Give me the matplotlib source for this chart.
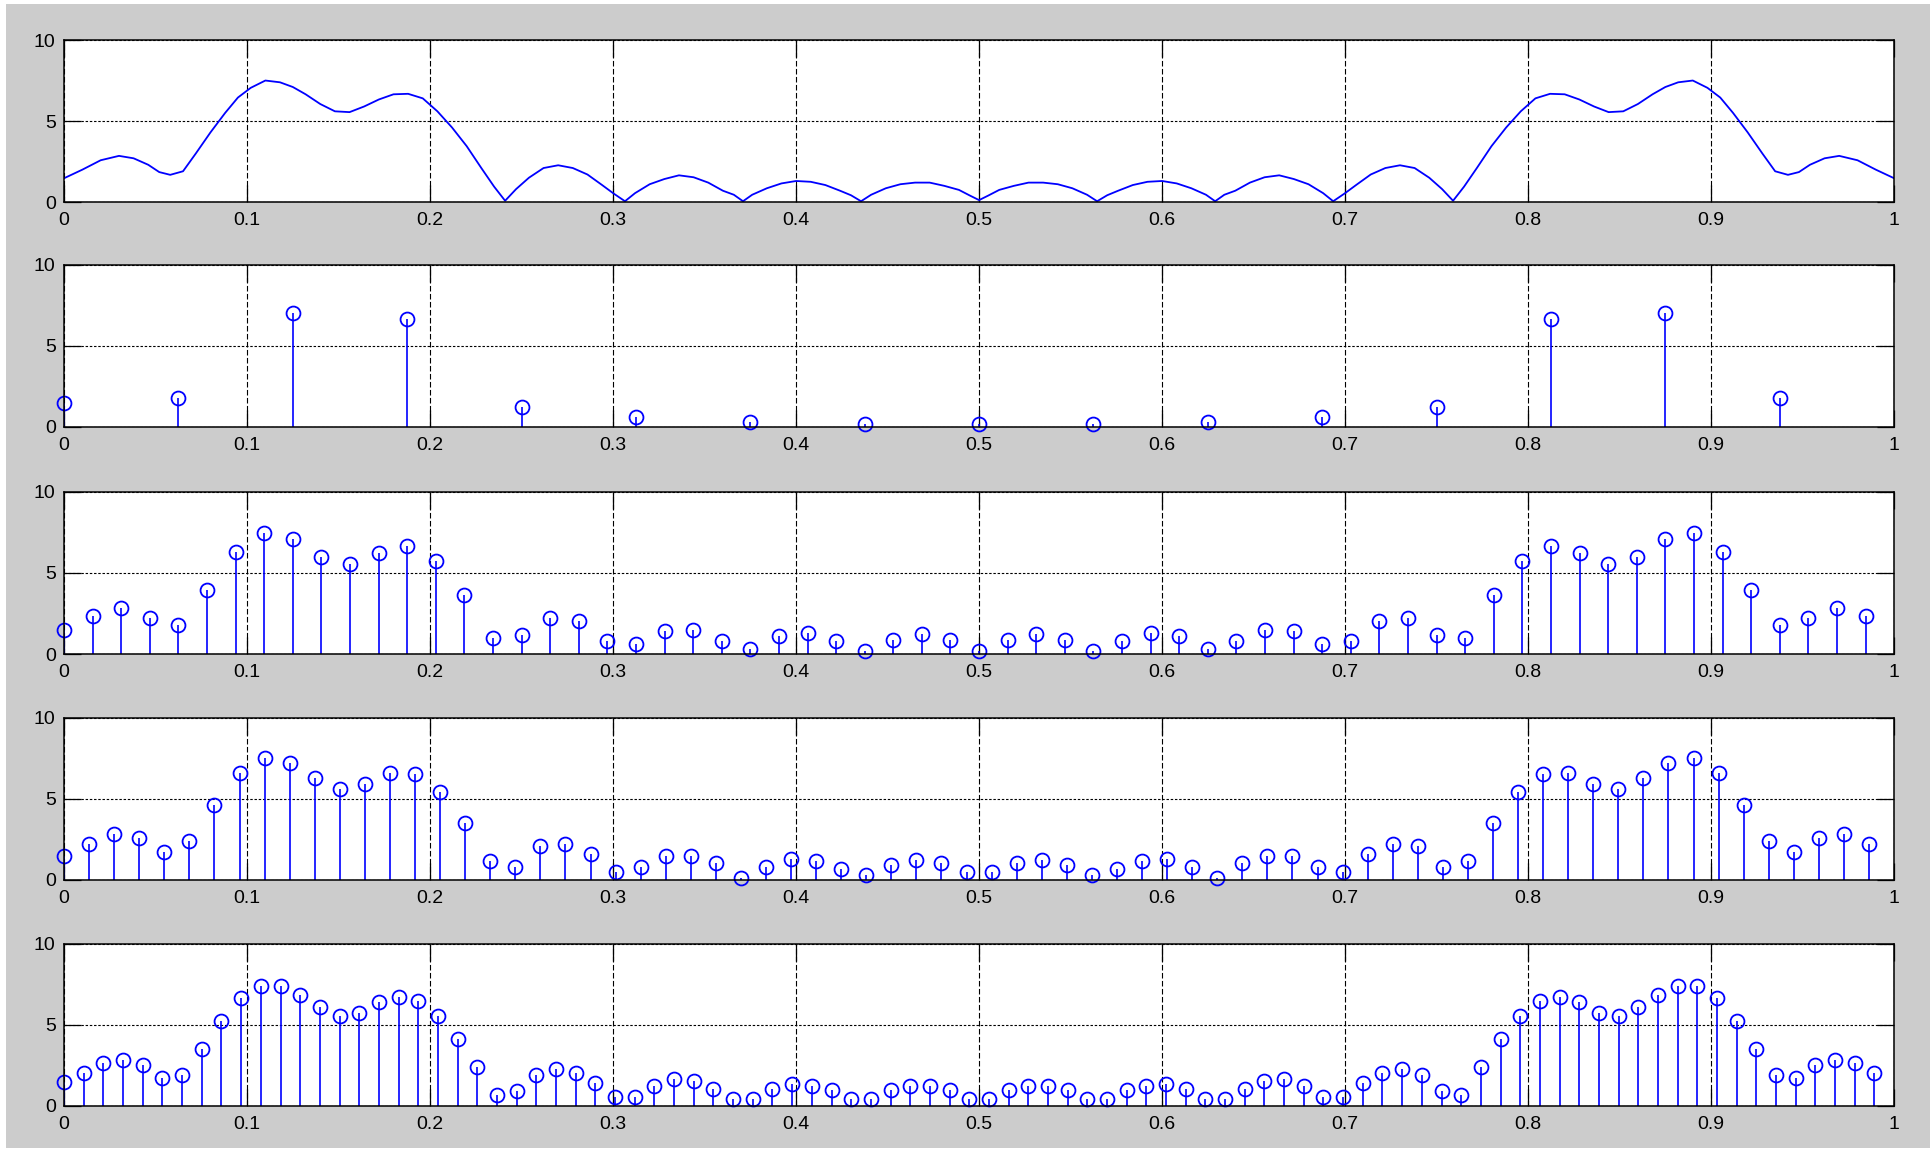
import matplotlib
matplotlib.use('Agg')
import matplotlib.pyplot as plt
from matplotlib.patches import Rectangle
import numpy as np

plt.rcParams['font.family'] = ['Liberation Sans', 'DejaVu Sans']

# continuous spectrum (top panel)
dtft_freq = [0, 0.01, 0.02, 0.03, 0.038, 0.046, 0.052, 0.058, 0.065, 0.072,
             0.08, 0.088, 0.095, 0.102, 0.11, 0.118, 0.125, 0.132, 0.14, 0.148,
             0.156, 0.164, 0.172, 0.18, 0.188, 0.196, 0.204, 0.212, 0.22, 0.228,
             0.235, 0.241, 0.247, 0.254, 0.262, 0.27, 0.278, 0.286, 0.294, 0.3,
             0.3065, 0.312, 0.32, 0.328, 0.336, 0.344, 0.352, 0.36, 0.366, 0.371,
             0.376, 0.384, 0.392, 0.4, 0.408, 0.416, 0.424, 0.43, 0.4355, 0.441,
             0.449, 0.457, 0.465, 0.473, 0.481, 0.489, 0.495, 0.5,
             0.505, 0.511, 0.519, 0.527, 0.535, 0.543, 0.551, 0.559, 0.5645, 0.57,
             0.576, 0.584, 0.592, 0.6, 0.608, 0.616, 0.624, 0.629, 0.634, 0.64,
             0.648, 0.656, 0.664, 0.672, 0.68, 0.688, 0.6935, 0.7, 0.706, 0.714,
             0.722, 0.73, 0.738, 0.746, 0.753, 0.759, 0.765, 0.772, 0.78, 0.788,
             0.796, 0.804, 0.812, 0.82, 0.828, 0.836, 0.844, 0.852, 0.86, 0.868,
             0.875, 0.882, 0.89, 0.898, 0.905, 0.912, 0.92, 0.928, 0.935, 0.942,
             0.948, 0.954, 0.962, 0.97, 0.98, 0.99, 1.0]
dtft_mag = [1.47, 2.0, 2.58, 2.85, 2.7, 2.3, 1.85, 1.68, 1.9, 3.0,
            4.3, 5.5, 6.45, 7.05, 7.5, 7.39, 7.1, 6.65, 6.05, 5.6,
            5.55, 5.9, 6.33, 6.65, 6.68, 6.4, 5.6, 4.6, 3.45, 2.1,
            0.95, 0.08, 0.8, 1.5, 2.1, 2.27, 2.1, 1.7, 1.05, 0.55,
            0.05, 0.55, 1.1, 1.42, 1.65, 1.53, 1.2, 0.7, 0.45, 0.05,
            0.45, 0.85, 1.15, 1.3, 1.25, 1.05, 0.7, 0.42, 0.05, 0.45,
            0.85, 1.1, 1.2, 1.2, 1.0, 0.75, 0.4, 0.12,
            0.4, 0.75, 1.0, 1.2, 1.2, 1.1, 0.85, 0.45, 0.05, 0.42,
            0.7, 1.05, 1.25, 1.3, 1.15, 0.85, 0.45, 0.05, 0.45, 0.7,
            1.2, 1.53, 1.65, 1.42, 1.1, 0.55, 0.05, 0.55, 1.05, 1.7,
            2.1, 2.27, 2.1, 1.5, 0.8, 0.08, 0.95, 2.1, 3.45, 4.6,
            5.6, 6.4, 6.68, 6.65, 6.33, 5.9, 5.55, 5.6, 6.05, 6.65,
            7.1, 7.39, 7.5, 7.05, 6.45, 5.5, 4.3, 3.0, 1.9, 1.68,
            1.85, 2.3, 2.7, 2.85, 2.58, 2.0, 1.47]

# sampled spectra, N = 16, 64, 73, 93
dft16 = [1.48, 1.80, 7.06, 6.65, 1.23, 0.60, 0.29, 0.20,
         0.20, 0.20, 0.29, 0.60, 1.23, 6.65, 7.06, 1.82]

dft64 = [1.46, 2.33, 2.84, 2.22, 1.81, 3.93, 6.28, 7.49, 7.08, 5.99, 5.58,
         6.26, 6.67, 5.74, 3.62, 0.99, 1.19, 2.22, 2.02, 0.78, 0.62, 1.40,
         1.50, 0.78, 0.33, 1.11, 1.32, 0.78, 0.16, 0.88, 1.21, 0.84, 0.16,
         0.84, 1.21, 0.88, 0.16, 0.78, 1.32, 1.11, 0.33, 0.78, 1.50, 1.40,
         0.62, 0.78, 2.02, 2.22, 1.19, 0.99, 3.62, 5.74, 6.67, 6.26, 5.58,
         5.99, 7.08, 7.49, 6.28, 3.93, 1.81, 2.22, 2.84, 2.33]

dft73 = [1.47, 2.25, 2.85, 2.60, 1.71, 2.42, 4.65, 6.59, 7.52, 7.21, 6.30,
         5.60, 5.95, 6.59, 6.57, 5.45, 3.53, 1.18, 0.81, 2.07, 2.23, 1.63,
         0.52, 0.83, 1.47, 1.51, 1.03, 0.14, 0.83, 1.32, 1.20, 0.68, 0.33,
         0.95, 1.24, 1.07, 0.48,
         0.48, 1.07, 1.24, 0.95, 0.33, 0.68, 1.20, 1.32, 0.83, 0.14, 1.03,
         1.51, 1.47, 0.83, 0.52, 1.63, 2.23, 2.07, 0.81, 1.18, 3.53, 5.45,
         6.57, 6.59, 5.95, 5.60, 6.30, 7.21, 7.52, 6.59, 4.65, 2.42, 1.71,
         2.60, 2.85, 2.25]

dft93 = [1.46, 2.04, 2.65, 2.86, 2.51, 1.73, 1.93, 3.54, 5.23, 6.67, 7.39,
         7.39, 6.83, 6.09, 5.53, 5.74, 6.40, 6.73, 6.50, 5.58, 4.14, 2.41,
         0.70, 0.93, 1.93, 2.28, 2.04, 1.42, 0.53, 0.53, 1.26, 1.67, 1.56,
         1.05, 0.45, 0.45, 1.07, 1.36, 1.21, 0.97, 0.45, 0.45, 1.01, 1.23,
         1.26, 0.99, 0.45,
         0.45, 0.99, 1.26, 1.23, 1.01, 0.45, 0.45, 0.97, 1.21, 1.36, 1.07,
         0.45, 0.45, 1.05, 1.56, 1.67, 1.26, 0.53, 0.53, 1.42, 2.04, 2.28,
         1.93, 0.93, 0.70, 2.41, 4.14, 5.58, 6.50, 6.73, 6.40, 5.74, 5.53,
         6.09, 6.83, 7.39, 7.39, 6.67, 5.23, 3.54, 1.93, 1.73, 2.51, 2.86,
         2.65, 2.04]

xticks = [0, 0.1, 0.2, 0.3, 0.4, 0.5, 0.6, 0.7, 0.8, 0.9, 1]
xticklabels = ['0', '0.1', '0.2', '0.3', '0.4', '0.5', '0.6', '0.7', '0.8', '0.9', '1']
yticks = [0, 5, 10]

fig = plt.figure(figsize=(19.3, 11.5), dpi=100, facecolor='white')
# grey window area, thin white strip left/top like the screenshot
fig.patches.append(Rectangle((6 / 1930, 2 / 1150), 1, 1 - 6 / 1150,
                             transform=fig.transFigure, facecolor='#cccccc',
                             edgecolor='none', zorder=-10))

left, width, height = 0.0332, 0.9482, 0.1409
bottoms = [0.8243, 0.6287, 0.4313, 0.2348, 0.0383]


def style_axes(ax):
    ax.set_xlim(0, 1)
    ax.set_ylim(0, 10)
    ax.set_xticks(xticks)
    ax.set_xticklabels(xticklabels)
    ax.set_yticks(yticks)
    ax.tick_params(direction='in', length=12, width=0.9, top=True, right=True,
                   labelsize=14, colors='k')
    ax.tick_params(axis='x', pad=7)
    ax.tick_params(axis='y', pad=6)
    ax.set_axisbelow(True)
    ax.xaxis.grid(True, color='k', linestyle=(0, (5, 2.2)), linewidth=0.8)
    ax.yaxis.grid(True, color='k', linestyle=(0, (2.2, 1.6)), linewidth=0.8)
    for s in ax.spines.values():
        s.set_linewidth(1.1)
        s.set_color('k')


def stem_panel(ax, vals):
    n = len(vals)
    x = np.arange(n) / n
    ml, sl, bl = ax.stem(x, vals, linefmt='-', markerfmt='o', basefmt=' ')
    sl.set_color('#0000ff')
    sl.set_linewidth(1.2)
    ml.set_markerfacecolor('none')
    ml.set_markeredgecolor('#0000ff')
    ml.set_markersize(10)
    ml.set_markeredgewidth(1.3)
    ml.set_clip_on(False)


axes = [fig.add_axes([left, b, width, height]) for b in bottoms]

axes[0].plot(dtft_freq, dtft_mag, color='#0000ff', linewidth=1.3)
stem_panel(axes[1], dft16)
stem_panel(axes[2], dft64)
stem_panel(axes[3], dft73)
stem_panel(axes[4], dft93)

for ax in axes:
    style_axes(ax)

fig.savefig('out.png', dpi=100, facecolor=fig.get_facecolor())
